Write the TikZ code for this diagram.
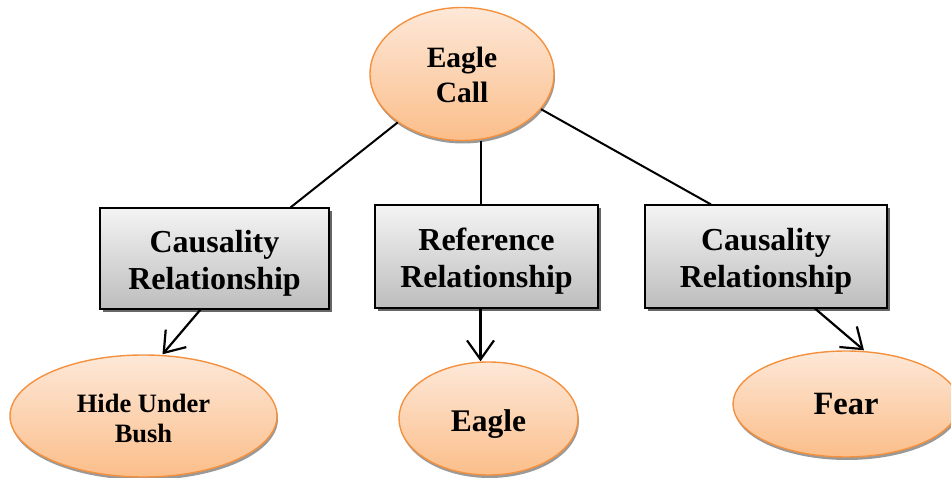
\documentclass[tikz,border=0pt]{standalone}
\usepackage{fontspec}
\setmainfont{Liberation Serif}
\usetikzlibrary{shapes.geometric,shadows,arrows.meta}
\definecolor{peachtop}{HTML}{FDE8D8}
\definecolor{peachbot}{HTML}{FBBE8A}
\definecolor{orangeline}{HTML}{F4913F}
\definecolor{greytop}{HTML}{F4F4F4}
\definecolor{greybot}{HTML}{BDBDBD}
% centred stack of lines, drawn #1 lower while keeping its extent
\newcommand{\linestack}[2]{\raisebox{-#1}[\height][\depth]{\begin{tabular}{@{}c@{}}#2\end{tabular}}}
\tikzset{
  oval/.style={ellipse, draw=orangeline, line width=1.4pt, inner sep=0pt,
    top color=peachtop, bottom color=peachbot,
    drop shadow={shadow xshift=1pt, shadow yshift=-3pt, fill=black!40, opacity=1}},
  relbox/.style={rectangle, draw=black, line width=1.1pt, inner sep=0pt,
    top color=greytop, bottom color=greybot,
    font=\fontsize{32}{37}\selectfont\bfseries,
    drop shadow={shadow xshift=3pt, shadow yshift=-3pt, fill=black!60, opacity=1}},
  link/.style={line width=2pt, black},
  arrowlink/.style={line width=2.2pt, black, -{Straight Barb[length=19pt,width=27pt,line width=2.2pt]}}
}
\begin{document}
\begin{tikzpicture}[x=1pt,y=-1pt]
\useasboundingbox (0,0) rectangle (951,478);
\begin{scope}
\clip (0,0) rectangle (951,478);
% top concept
\node[oval, minimum width=184pt, minimum height=133pt,
      font=\fontsize{29.5}{35}\selectfont\bfseries] (call) at (462,74) {\linestack{4.5pt}{Eagle\\Call}};
% relationship boxes
\node[relbox, minimum width=229pt, minimum height=101pt] (lbox) at (214.5,258.5) {\linestack{5.5pt}{Causality\\Relationship}};
\node[relbox, minimum width=223pt, minimum height=103pt] (mbox) at (486.5,256.5) {\linestack{5.5pt}{Reference\\Relationship}};
\node[relbox, minimum width=242pt, minimum height=103pt] (rbox) at (766,256.5) {\linestack{5.5pt}{Causality\\Relationship}};
% outcome concepts
\node[oval, minimum width=267pt, minimum height=122pt,
      font=\fontsize{26.5}{30.5}\selectfont\bfseries] (hide) at (143.5,416) {\linestack{5.5pt}{Hide Under\\Bush}};
\node[oval, minimum width=179pt, minimum height=113pt,
      font=\fontsize{31.5}{36}\selectfont\bfseries] (eagle) at (488.5,418.5) {\linestack{6pt}{Eagle}};
\node[oval, minimum width=226pt, minimum height=106pt,
      font=\fontsize{32.5}{36}\selectfont\bfseries] (fear) at (846,404) {\linestack{3.5pt}{Fear}};
% connectors from the call to the relationships
\draw[link] (call.217) -- ([xshift=76pt]lbox.north);
\draw[link] ([xshift=-6pt]mbox.north |- call.south) -- ([xshift=-6pt]mbox.north);
\draw[link] (call.336) -- ([xshift=-55pt]rbox.north);
% arrows from the relationships to the outcomes
\draw[arrowlink] ([xshift=-14pt]lbox.south) -- ([xshift=19pt]hide.north);
\draw[arrowlink] ([xshift=-6pt]mbox.south) -- ([xshift=-8pt]eagle.north);
\draw[arrowlink] ([xshift=49pt]rbox.south) -- ([xshift=18pt]fear.north);
\end{scope}
\end{tikzpicture}
\end{document}
